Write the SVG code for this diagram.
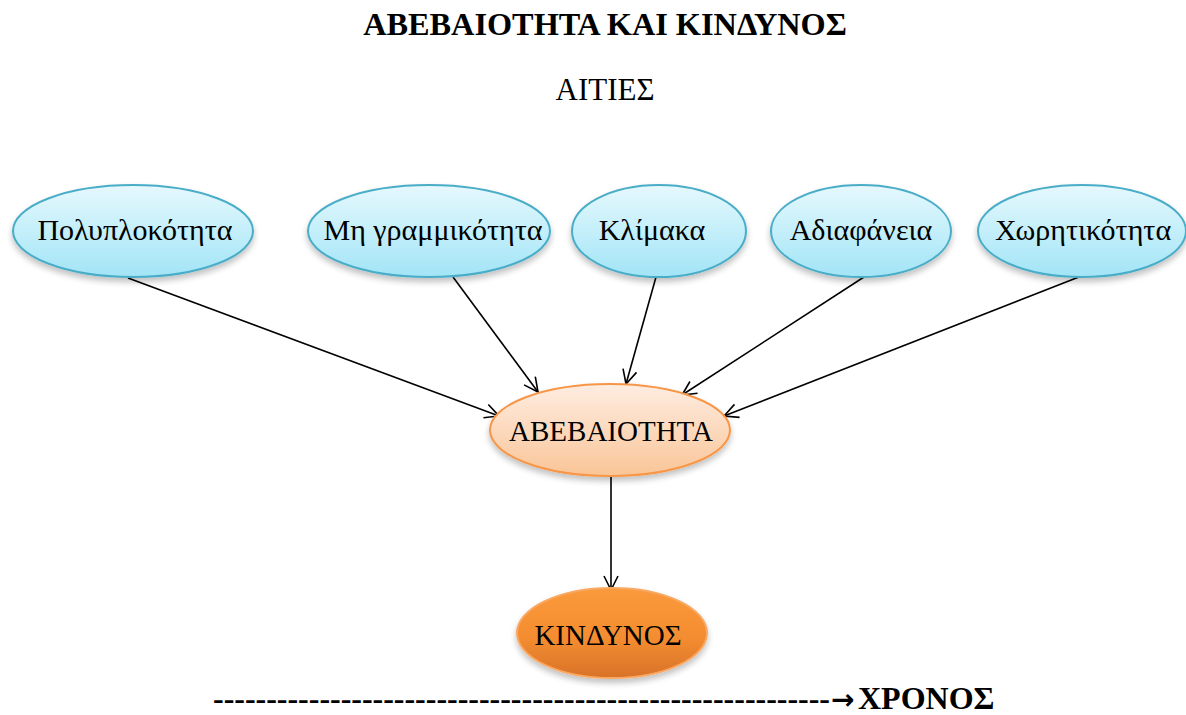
<svg xmlns="http://www.w3.org/2000/svg" width="1186" height="715" viewBox="0 0 1186 715">
<defs>
<style>
.t{font-family:"Liberation Serif","Times New Roman",serif;fill:#000}
.n{font-size:30px;text-anchor:middle}
.m{font-size:29px;text-anchor:middle}
.b{fill:url(#gb);stroke:#4aadc8;stroke-width:2}
.c{stroke:#000;stroke-width:1.6;fill:none;marker-end:url(#ah)}
</style>
<linearGradient id="gb" x1="0" y1="0" x2="0" y2="1">
<stop offset="0" stop-color="#e6f8fd"/>
<stop offset="0.5" stop-color="#c4effa"/>
<stop offset="1" stop-color="#a2e4f6"/>
</linearGradient>
<linearGradient id="gp" x1="0" y1="0" x2="0" y2="1">
<stop offset="0" stop-color="#feede1"/>
<stop offset="0.5" stop-color="#fcd9bd"/>
<stop offset="1" stop-color="#f9c597"/>
</linearGradient>
<linearGradient id="go" x1="0" y1="0" x2="0" y2="1">
<stop offset="0" stop-color="#fa9a3c"/>
<stop offset="0.55" stop-color="#f48d30"/>
<stop offset="1" stop-color="#d8722a"/>
</linearGradient>
<filter id="sh" x="-20%" y="-20%" width="140%" height="160%">
<feGaussianBlur in="SourceAlpha" stdDeviation="3"/>
<feOffset dy="4" result="o"/>
<feComponentTransfer><feFuncA type="linear" slope="0.25"/></feComponentTransfer>
<feMerge><feMergeNode/><feMergeNode in="SourceGraphic"/></feMerge>
</filter>
<marker id="ah" viewBox="0 0 16 16" refX="15" refY="8" markerWidth="16" markerHeight="16" markerUnits="userSpaceOnUse" orient="auto">
<path d="M1,1 L15,8 L1,15" fill="none" stroke="#000" stroke-width="1.6"/>
</marker>
</defs>
<rect width="1186" height="715" fill="#fff"/>
<text class="t" x="605" y="35" font-size="32.3" font-weight="bold" text-anchor="middle">ΑΒΕΒΑΙΟΤΗΤΑ ΚΑΙ ΚΙΝΔΥΝΟΣ</text>
<text class="t" x="605" y="100" font-size="31" text-anchor="middle">ΑΙΤΙΕΣ</text>
<g id="connectors">
<line class="c" x1="128" y1="278" x2="499" y2="416"/>
<line class="c" x1="453" y1="277" x2="538" y2="392"/>
<line class="c" x1="656" y1="277" x2="626" y2="384"/>
<line class="c" x1="864" y1="277" x2="682" y2="395"/>
<line class="c" x1="1084" y1="275" x2="724" y2="416"/>
<line class="c" x1="611" y1="476" x2="611" y2="590"/>
</g>
<g id="n1"><ellipse class="b" cx="133" cy="231" rx="120" ry="46" filter="url(#sh)"/><text class="t n" x="135" y="240">Πολυπλοκότητα</text></g>
<g id="n2"><ellipse class="b" cx="429" cy="231" rx="121" ry="46" filter="url(#sh)"/><text class="t n" x="433" y="240">Μη γραμμικότητα</text></g>
<g id="n3"><ellipse class="b" cx="659" cy="231" rx="87" ry="46" filter="url(#sh)"/><text class="t n" x="652" y="240">Κλίμακα</text></g>
<g id="n4"><ellipse class="b" cx="861" cy="231" rx="90" ry="46" filter="url(#sh)"/><text class="t n" x="861" y="240">Αδιαφάνεια</text></g>
<g id="n5"><ellipse class="b" cx="1082" cy="231" rx="104" ry="46" filter="url(#sh)"/><text class="t n" x="1083" y="240">Χωρητικότητα</text></g>
<g id="n6"><ellipse cx="610" cy="430" rx="120" ry="46" fill="url(#gp)" stroke="#f79646" stroke-width="2" filter="url(#sh)"/><text class="t m" x="611" y="441">ΑΒΕΒΑΙΟΤΗΤΑ</text></g>
<g id="n7"><ellipse cx="612" cy="633" rx="95" ry="45" fill="url(#go)" stroke="#f9a862" stroke-width="2" filter="url(#sh)"/><text class="t m" x="608" y="645">ΚΙΝΔΥΝΟΣ</text></g>
<text class="t" x="213" y="709" font-size="32" font-weight="bold" textLength="617" lengthAdjust="spacing">----------------------------------------------------------</text>
<text x="831" y="709" font-family="'DejaVu Sans',sans-serif" font-size="28" font-weight="bold">→</text>
<text class="t" x="858" y="709" font-size="32" font-weight="bold">ΧΡΟΝΟΣ</text>
</svg>
